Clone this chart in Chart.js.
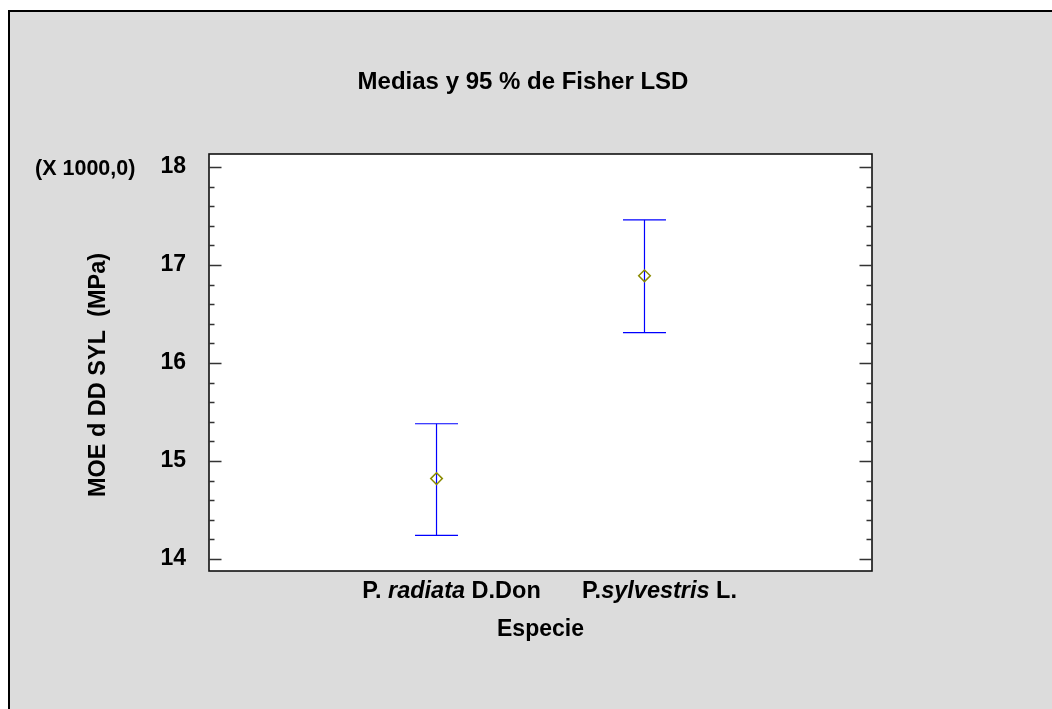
<!DOCTYPE html>
<html>
<head>
<meta charset="utf-8">
<script src="https://cdn.jsdelivr.net/npm/chart.js@4.4.1/dist/chart.umd.min.js"></script>
<style>
  html, body { margin: 0; padding: 0; background: #fff; }
  canvas { display: block; }
</style>
</head>
<body>
<canvas id="myChart" width="1052" height="709"></canvas>
<script>
// datos
const categories = ['P. radiata D.Don', 'P.sylvestris L.'];
const italicWords = ['radiata', 'sylvestris'];
const xPos = [1, 2];
const means = [14.82, 16.89];
const lower = [14.24, 16.31];
const upper = [15.38, 17.46];
const yMajorTicks = [14, 15, 16, 17, 18];
const yTickStep = 0.2;

const chartTitle = 'Medias y 95 % de Fisher LSD';
const yTitle = 'MOE d DD SYL  (MPa)';
const xTitle = 'Especie';
const yScaleNote = '(X 1000,0)';

const FONT = '"Liberation Sans", Arial, Helvetica, sans-serif';
const BG = '#dcdcdc';

// tutte le tacche dell'asse y (0.2 di passo)
const yTicks = [];
for (let v = yMajorTicks[0]; v <= yMajorTicks[yMajorTicks.length - 1] + 1e-9; v += yTickStep) {
    yTicks.push(Math.round(v * 10) / 10);
}

const decorPlugin = {
    id: 'decor',
    beforeDraw(chart) {
        const { ctx, width, height, chartArea: a } = chart;
        ctx.save();
        ctx.fillStyle = '#fff';
        ctx.fillRect(0, 0, width, height);
        ctx.fillStyle = BG;
        ctx.fillRect(8, 10, width, height);
        ctx.strokeStyle = '#000';
        ctx.lineWidth = 2;
        ctx.beginPath();
        ctx.moveTo(9, height + 5);
        ctx.lineTo(9, 11);
        ctx.lineTo(width + 5, 11);
        ctx.stroke();
        ctx.fillStyle = '#fff';
        ctx.fillRect(a.left, a.top, a.right - a.left, a.bottom - a.top);
        ctx.restore();
    },
    afterDraw(chart) {
        const { ctx, chartArea: a } = chart;
        const ys = chart.scales.y;
        const xs = chart.scales.x;
        ctx.save();

        // cornice area grafico
        ctx.strokeStyle = '#111';
        ctx.lineWidth = 1.6;
        ctx.strokeRect(a.left, a.top, a.right - a.left, a.bottom - a.top);

        // tacche verso l'interno, su entrambi i lati
        ctx.strokeStyle = '#333';
        ctx.lineWidth = 1.4;
        ys.ticks.forEach(t => {
            const y = Math.round(ys.getPixelForValue(t.value)) + 0.5;
            const len = yMajorTicks.includes(Math.round(t.value * 10) / 10) ? 12.5 : 5.5;
            ctx.beginPath();
            ctx.moveTo(a.left, y);
            ctx.lineTo(a.left + len, y);
            ctx.moveTo(a.right, y);
            ctx.lineTo(a.right - len, y);
            ctx.stroke();
        });

        ctx.fillStyle = '#000';

        // etichette categorie con parte in corsivo
        const catFont = '23.5px ' + FONT;
        categories.forEach((label, i) => {
            const word = italicWords[i];
            const k = label.indexOf(word);
            const parts = [
                { t: label.slice(0, k), f: 'bold ' + catFont },
                { t: word, f: 'italic bold ' + catFont },
                { t: label.slice(k + word.length), f: 'bold ' + catFont }
            ];
            let w = 0;
            parts.forEach(p => { ctx.font = p.f; p.w = ctx.measureText(p.t).width; w += p.w; });
            let x = xs.getPixelForValue(xPos[i]) + 15 - w / 2;
            ctx.textAlign = 'left';
            ctx.textBaseline = 'alphabetic';
            parts.forEach(p => { ctx.font = p.f; ctx.fillText(p.t, x, a.bottom + 27); x += p.w; });
        });

        ctx.textAlign = 'center';
        ctx.font = 'bold 23px ' + FONT;
        ctx.fillText(xTitle, (a.left + a.right) / 2, a.bottom + 65);

        ctx.font = 'bold 24px ' + FONT;
        ctx.fillText(chartTitle, 523, 89);

        ctx.textAlign = 'left';
        ctx.font = 'bold 21.5px ' + FONT;
        ctx.fillText(yScaleNote, 35, 175);

        ctx.save();
        ctx.translate(105, 375);
        ctx.rotate(-Math.PI / 2);
        ctx.textAlign = 'center';
        ctx.font = 'bold 23.5px ' + FONT;
        ctx.fillText(yTitle, 0, 0);
        ctx.restore();

        ctx.restore();
    }
};

const errorBars = categories.map((c, i) => ({
    type: 'line',
    label: c,
    data: [{ x: xPos[i], y: lower[i] }, { x: xPos[i], y: upper[i] }],
    borderColor: '#0000ff',
    borderWidth: 1.2,
    showLine: true,
    fill: false,
    pointStyle: 'line',
    pointRadius: 21.5,
    pointBorderColor: '#0000ff',
    pointBorderWidth: 1.2,
    order: 1
}));

new Chart(document.getElementById('myChart'), {
    type: 'scatter',
    data: {
        datasets: [{
            label: 'Media',
            data: categories.map((c, i) => ({ x: xPos[i], y: means[i] })),
            pointStyle: 'rectRot',
            pointRadius: 5.8,
            borderColor: '#8a8a00',
            backgroundColor: 'rgba(0,0,0,0)',
            borderWidth: 1.5,
            order: 0
        }, ...errorBars]
    },
    options: {
        responsive: false,
        animation: false,
        devicePixelRatio: 1,
        layout: { padding: { left: 0, top: 154, right: 180, bottom: 0 } },
        plugins: {
            legend: { display: false },
            tooltip: { enabled: false },
            title: { display: false }
        },
        scales: {
            x: {
                type: 'linear',
                min: -0.094,
                max: 3.094,
                grid: { display: false, drawTicks: false },
                border: { display: false },
                ticks: { display: false },
                afterFit: s => { s.height = 138; }
            },
            y: {
                min: 13.877,
                max: 18.133,
                afterBuildTicks: s => { s.ticks = yTicks.map(v => ({ value: v })); },
                grid: { display: false, drawTicks: false },
                border: { display: false },
                ticks: {
                    autoSkip: false,
                    padding: 23,
                    color: '#000',
                    font: { family: FONT, size: 23, weight: 'bold' },
                    callback: v => yMajorTicks.includes(Math.round(v * 10) / 10) ? String(Math.round(v)) : ''
                },
                afterFit: s => { s.width = 209; }
            }
        }
    },
    plugins: [decorPlugin]
});
</script>
</body>
</html>
